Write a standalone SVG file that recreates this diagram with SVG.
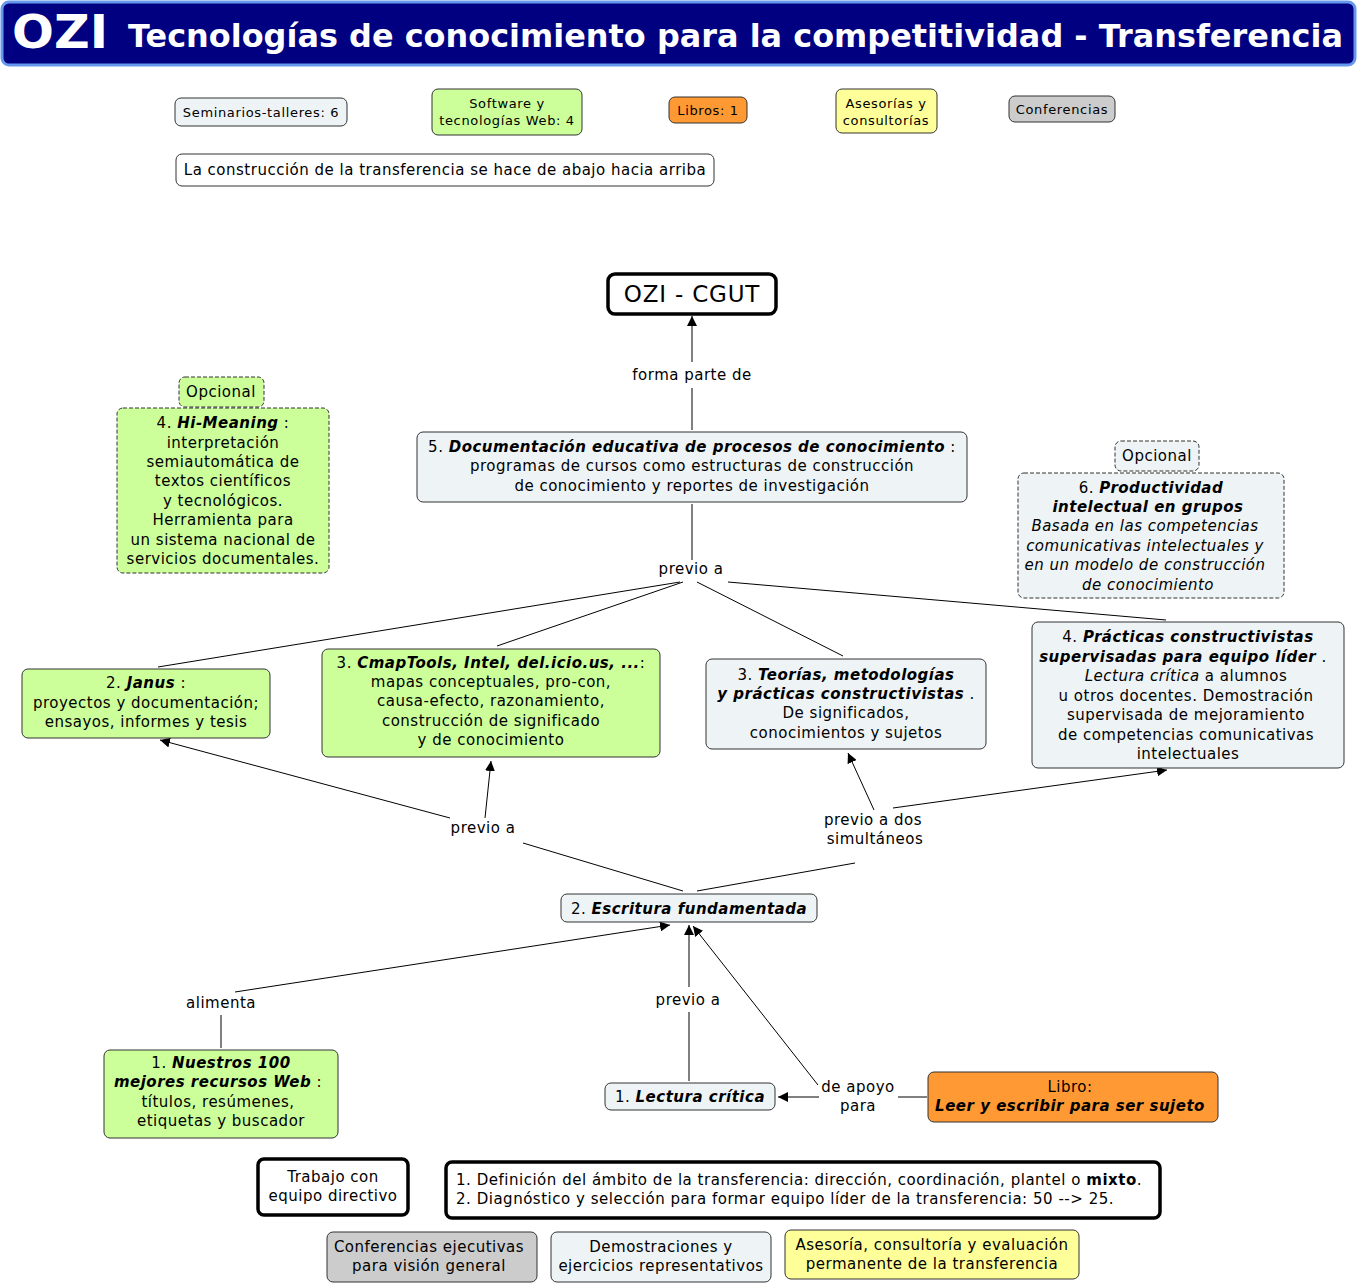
<svg xmlns="http://www.w3.org/2000/svg" width="1357" height="1284" viewBox="0 0 1357 1284">
<defs>
<style>
text{font-family:"DejaVu Sans",Verdana,sans-serif;fill:#000}
.t{font-size:15px;text-anchor:middle;letter-spacing:0.5px}
.s{font-size:13px;text-anchor:middle;letter-spacing:0.65px}
.l{font-size:15px;text-anchor:middle;letter-spacing:0.5px}
.left{font-size:15px;letter-spacing:0.52px}
.bi{font-weight:bold;font-style:italic}
.i{font-style:italic}
.b{font-weight:bold}
.blue{fill:#eef4f6;stroke:#333;stroke-width:1}
.green{fill:#ccff99;stroke:#333;stroke-width:1}
.orange{fill:#ff9933;stroke:#333;stroke-width:1}
.yellow{fill:#ffff99;stroke:#333;stroke-width:1}
.gray{fill:#cccccc;stroke:#333;stroke-width:1}
.white{fill:#fff;stroke:#333;stroke-width:1}
.thick{fill:#fff;stroke:#000;stroke-width:3.5}
.dash{stroke-dasharray:4 2}
.c line{stroke:#000;stroke-width:1}
.c .a{marker-end:url(#ah)}
</style>
<marker id="ah" viewBox="0 0 10 10" refX="10" refY="5" markerWidth="10" markerHeight="10" markerUnits="userSpaceOnUse" orient="auto">
<path d="M0,0 L10,5 L0,10 z" fill="#000"/>
</marker>
</defs>
<rect width="1357" height="1284" fill="#fff"/>

<g id="title">
<rect x="2" y="2" width="1353" height="63" rx="7" fill="#000080" stroke="#6699ee" stroke-width="3"/>
<text x="12" y="48" style="font-size:46px;font-weight:bold;fill:#fff" textLength="96" lengthAdjust="spacingAndGlyphs">OZI</text>
<text x="128" y="47" style="font-size:32px;font-weight:bold;fill:#fff" textLength="1215" lengthAdjust="spacingAndGlyphs">Tecnologías de conocimiento para la competitividad - Transferencia</text>
</g>

<g id="legend-seminarios"><rect class="blue" x="175" y="98" width="172" height="28" rx="6"/><text class="s" x="261" y="117">Seminarios-talleres: 6</text></g>
<g id="legend-software"><rect class="green" x="432" y="89" width="150" height="46" rx="6"/><text class="s" x="507" y="108">Software y</text><text class="s" x="507" y="125">tecnologías Web: 4</text></g>
<g id="legend-libros"><rect class="orange" x="669" y="97" width="78" height="26" rx="6"/><text class="s" x="708" y="115">Libros: 1</text></g>
<g id="legend-asesorias"><rect class="yellow" x="836" y="89" width="101" height="44" rx="6"/><text class="s" x="886" y="108">Asesorías y</text><text class="s" x="886" y="125">consultorías</text></g>
<g id="legend-conferencias"><rect class="gray" x="1009" y="96" width="106" height="26" rx="6"/><text class="s" x="1062" y="114">Conferencias</text></g>
<g id="nota"><rect class="white" x="176" y="154" width="538" height="32" rx="6"/><text class="t" x="445" y="175">La construcción de la transferencia se hace de abajo hacia arriba</text></g>

<g class="c" id="connectors">
<line x1="692" y1="430" x2="692" y2="388"/>
<line class="a" x1="692" y1="362" x2="692" y2="316"/>
<line x1="692" y1="504" x2="692" y2="560"/>
<line x1="680" y1="582" x2="158" y2="667"/>
<line x1="683" y1="582" x2="497" y2="646"/>
<line x1="697" y1="582" x2="843" y2="656"/>
<line x1="728" y1="582" x2="1166" y2="620"/>
<line x1="683" y1="891" x2="523" y2="843"/>
<line class="a" x1="450" y1="818" x2="160" y2="740"/>
<line class="a" x1="485" y1="818" x2="491" y2="761"/>
<line x1="697" y1="891" x2="855" y2="863"/>
<line class="a" x1="874" y1="810" x2="848" y2="753"/>
<line class="a" x1="893" y1="808" x2="1167" y2="770"/>
<line x1="221" y1="1048" x2="221" y2="1015"/>
<line class="a" x1="235" y1="992" x2="670" y2="925"/>
<line x1="689" y1="1081" x2="689" y2="1012"/>
<line class="a" x1="689" y1="987" x2="689" y2="925"/>
<line x1="927" y1="1097" x2="898" y2="1097"/>
<line class="a" x1="819" y1="1097" x2="778" y2="1097"/>
<line class="a" x1="818" y1="1085" x2="693" y2="926"/>
</g>

<g id="labels">
<text class="l" x="692" y="380">forma parte de</text>
<text class="l" x="691" y="574">previo a</text>
<text class="l" x="483" y="833">previo a</text>
<text class="l" x="873" y="825">previo a dos</text>
<text class="l" x="875" y="844">simultáneos</text>
<text class="l" x="221" y="1008">alimenta</text>
<text class="l" x="688" y="1005">previo a</text>
<text class="l" x="858" y="1092">de apoyo</text>
<text class="l" x="858" y="1111">para</text>
</g>

<g id="ozi-cgut"><rect class="thick" x="608" y="274" width="168" height="40" rx="7"/><text x="692" y="302" style="font-size:23px;text-anchor:middle;letter-spacing:0.8px">OZI - CGUT</text></g>

<g id="n5"><rect class="blue" x="417" y="432" width="550" height="70" rx="6"/>
<text class="t" x="692" y="452">5. <tspan class="bi">Documentación educativa de procesos de conocimiento</tspan> :</text>
<text class="t" x="692" y="471">programas de cursos como estructuras de construcción</text>
<text class="t" x="692" y="491">de conocimiento y reportes de investigación</text></g>

<g id="opcional-izq"><rect class="green dash" x="179" y="377" width="85" height="30" rx="6"/><text class="t" x="221" y="397">Opcional</text></g>
<g id="hi-meaning"><rect class="green dash" x="117" y="408" width="212" height="165" rx="6"/>
<text class="t" x="223" y="428">4. <tspan class="bi">Hi-Meaning</tspan> :</text>
<text class="t" x="223" y="448">interpretación</text>
<text class="t" x="223" y="467">semiautomática de</text>
<text class="t" x="223" y="486">textos científicos</text>
<text class="t" x="223" y="506">y tecnológicos.</text>
<text class="t" x="223" y="525">Herramienta para</text>
<text class="t" x="223" y="545">un sistema nacional de</text>
<text class="t" x="223" y="564">servicios documentales.</text></g>

<g id="opcional-der"><rect class="blue dash" x="1115" y="441" width="84" height="30" rx="6"/><text class="t" x="1157" y="461">Opcional</text></g>
<g id="n6"><rect class="blue dash" x="1018" y="473" width="266" height="125" rx="6"/>
<text class="t" x="1151" y="493">6. <tspan class="bi">Productividad</tspan></text>
<text class="t bi" x="1148" y="512">intelectual en grupos</text>
<text class="t i" x="1145" y="531">Basada en las competencias</text>
<text class="t i" x="1145" y="551">comunicativas intelectuales y</text>
<text class="t i" x="1145" y="570">en un modelo de construcción</text>
<text class="t i" x="1148" y="590">de conocimiento</text></g>

<g id="janus"><rect class="green" x="22" y="669" width="248" height="69" rx="6"/>
<text class="t" x="146" y="688">2. <tspan class="bi">Janus</tspan> :</text>
<text class="t" x="146" y="708">proyectos y documentación;</text>
<text class="t" x="146" y="727">ensayos, informes y tesis</text></g>

<g id="cmaptools"><rect class="green" x="322" y="649" width="338" height="108" rx="6"/>
<text class="t" x="491" y="668">3. <tspan class="bi">CmapTools, Intel, del.icio.us,  ...</tspan>:</text>
<text class="t" x="491" y="687">mapas conceptuales, pro-con,</text>
<text class="t" x="491" y="706">causa-efecto, razonamiento,</text>
<text class="t" x="491" y="726">construcción de significado</text>
<text class="t" x="491" y="745">y de conocimiento</text></g>

<g id="teorias"><rect class="blue" x="706" y="659" width="280" height="90" rx="6"/>
<text class="t" x="846" y="680">3. <tspan class="bi">Teorías, metodologías</tspan></text>
<text class="t" x="846" y="699"><tspan class="bi">y prácticas constructivistas</tspan> .</text>
<text class="t" x="846" y="718">De significados,</text>
<text class="t" x="846" y="738">conocimientos y sujetos</text></g>

<g id="practicas"><rect class="blue" x="1032" y="622" width="312" height="146" rx="6"/>
<text class="t" x="1188" y="642">4. <tspan class="bi">Prácticas constructivistas</tspan></text>
<text class="t" x="1183" y="662"><tspan class="bi">supervisadas para equipo líder</tspan> .</text>
<text class="t" x="1186" y="681"><tspan class="i">Lectura crítica</tspan>  a alumnos</text>
<text class="t" x="1186" y="701">u otros docentes. Demostración</text>
<text class="t" x="1186" y="720">supervisada de mejoramiento</text>
<text class="t" x="1186" y="740">de competencias comunicativas</text>
<text class="t" x="1188" y="759">intelectuales</text></g>

<g id="escritura"><rect class="blue" x="561" y="894" width="256" height="28" rx="6"/>
<text class="t" x="689" y="914">2. <tspan class="bi">Escritura fundamentada</tspan></text></g>

<g id="nuestros100"><rect class="green" x="104" y="1050" width="234" height="88" rx="6"/>
<text class="t" x="221" y="1068">1. <tspan class="bi">Nuestros 100</tspan></text>
<text class="t" x="218" y="1087"><tspan class="bi">mejores recursos Web</tspan> :</text>
<text class="t" x="218" y="1107">títulos, resúmenes,</text>
<text class="t" x="221" y="1126">etiquetas y buscador</text></g>

<g id="lectura"><rect class="blue" x="605" y="1083" width="170" height="27" rx="6"/>
<text class="t" x="690" y="1102">1. <tspan class="bi">Lectura crítica</tspan></text></g>

<g id="libro"><rect class="orange" x="928" y="1072" width="290" height="50" rx="6"/>
<text class="t" x="1070" y="1092">Libro:</text>
<text class="t bi" x="1070" y="1111">Leer y escribir para ser sujeto</text></g>

<g id="trabajo"><rect class="thick" x="258" y="1159" width="150" height="56" rx="6"/>
<text class="t" x="333" y="1182">Trabajo con</text>
<text class="t" x="333" y="1201">equipo directivo</text></g>

<g id="definicion"><rect class="thick" x="446" y="1162" width="714" height="56" rx="6"/>
<text class="left" x="456" y="1185">1. Definición del ámbito de la transferencia: dirección, coordinación, plantel o <tspan class="b">mixto</tspan>.</text>
<text class="left" x="456" y="1204">2. Diagnóstico y selección para formar equipo líder de la transferencia: 50 --&gt; 25.</text></g>

<g id="conf-ejecutivas"><rect class="gray" x="327" y="1232" width="210" height="50" rx="6"/>
<text class="t" x="429" y="1252">Conferencias ejecutivas</text>
<text class="t" x="429" y="1271">para visión general</text></g>

<g id="demostraciones"><rect class="blue" x="551" y="1232" width="220" height="50" rx="6"/>
<text class="t" x="661" y="1252">Demostraciones y</text>
<text class="t" x="661" y="1271">ejercicios representativos</text></g>

<g id="asesoria"><rect class="yellow" x="785" y="1230" width="294" height="49" rx="6"/>
<text class="t" x="932" y="1250">Asesoría, consultoría y evaluación</text>
<text class="t" x="932" y="1269">permanente de la transferencia</text></g>
</svg>
